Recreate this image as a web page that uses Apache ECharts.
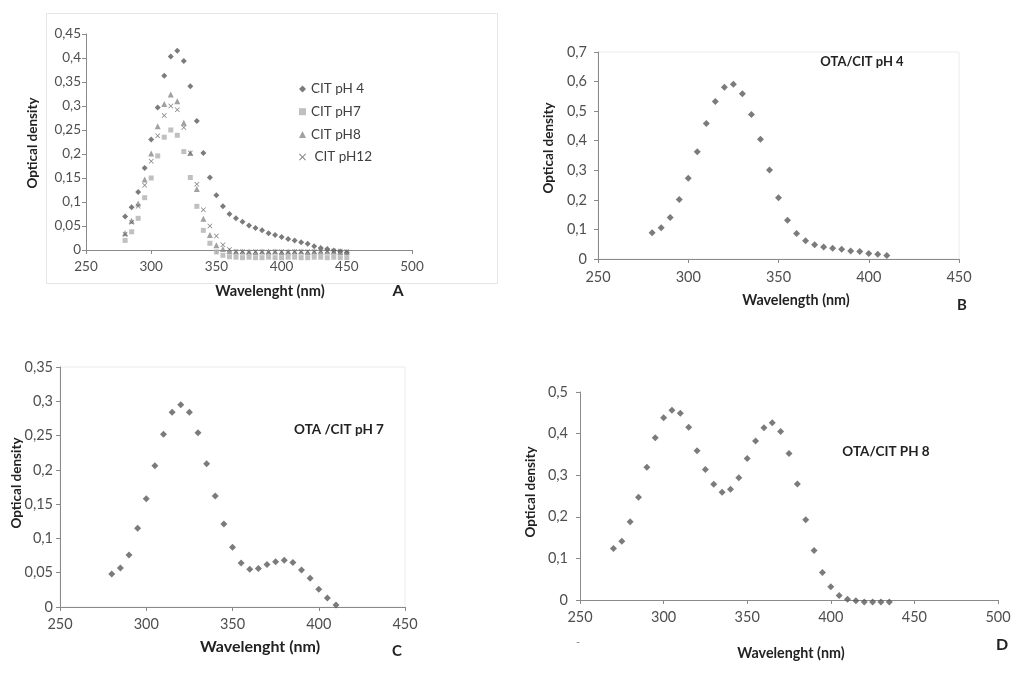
<!DOCTYPE html>
<html><head><meta charset="utf-8">
<script src="https://cdn.jsdelivr.net/npm/echarts@6/dist/echarts.min.js"></script>
<style>html,body{margin:0;padding:0;background:#fff}#c{width:1024px;height:673px}</style>
</head><body><div id="c"></div>
<script>
// Panel A: CIT at various pH
const wlA = [280,285,290,295,300,305,310,315,320,325,330,335,340,345,350,355,360,365,370,375,380,385,390,395,400,405,410,415,420,425,430,435,440,445,450];
const citPH4 = [0.070,0.089,0.121,0.171,0.230,0.297,0.363,0.403,0.415,0.394,0.341,0.269,0.202,0.151,0.114,0.091,0.075,0.066,0.059,0.051,0.046,0.041,0.035,0.031,0.027,0.023,0.020,0.016,0.013,0.008,0.004,0.002,-0.001,-0.003,-0.005];
const citPH7 = [0.020,0.038,0.066,0.109,0.150,0.196,0.235,0.250,0.239,0.205,0.151,0.091,0.041,0.014,-0.004,-0.011,-0.014,-0.015,-0.016,-0.015,-0.016,-0.016,-0.015,-0.016,-0.016,-0.015,-0.015,-0.016,-0.016,-0.015,-0.015,-0.016,-0.015,-0.016,-0.016];
const citPH8 = [0.035,0.061,0.097,0.147,0.201,0.258,0.304,0.324,0.310,0.265,0.202,0.127,0.065,0.031,0.010,0.002,-0.002,-0.003,-0.003,-0.003,-0.004,-0.003,-0.003,-0.003,-0.004,-0.003,-0.003,-0.003,-0.004,-0.003,-0.003,-0.003,-0.003,-0.004,-0.004];
const citPH12 = [0.033,0.058,0.091,0.135,0.185,0.238,0.280,0.300,0.292,0.255,0.202,0.137,0.084,0.050,0.029,0.011,0.001,-0.003,-0.003,-0.004,-0.003,-0.003,-0.004,-0.003,-0.003,-0.004,-0.003,-0.003,-0.003,-0.003,-0.002,-0.002,-0.002,-0.002,-0.003];
// Panel B: OTA/CIT pH 4
const wlB = [280,285,290,295,300,305,310,315,320,325,330,335,340,345,350,355,360,365,370,375,380,385,390,395,400,405,410];
const otaPH4 = [0.089,0.106,0.140,0.201,0.273,0.363,0.458,0.533,0.581,0.591,0.559,0.489,0.405,0.301,0.207,0.131,0.086,0.062,0.048,0.041,0.036,0.033,0.027,0.025,0.019,0.016,0.012];
// Panel C: OTA/CIT pH 7
const wlC = [280,285,290,295,300,305,310,315,320,325,330,335,340,345,350,355,360,365,370,375,380,385,390,395,400,405,410];
const otaPH7 = [0.048,0.057,0.076,0.115,0.158,0.206,0.252,0.284,0.295,0.284,0.254,0.209,0.162,0.121,0.087,0.064,0.055,0.056,0.062,0.066,0.068,0.065,0.054,0.042,0.026,0.013,0.003];
// Panel D: OTA/CIT PH 8
const wlD = [270,275,280,285,290,295,300,305,310,315,320,325,330,335,340,345,350,355,360,365,370,375,380,385,390,395,400,405,410,415,420,425,430,435];
const otaPH8 = [0.124,0.141,0.188,0.247,0.319,0.390,0.438,0.456,0.449,0.415,0.359,0.314,0.278,0.259,0.266,0.294,0.340,0.382,0.414,0.426,0.405,0.352,0.279,0.193,0.119,0.066,0.032,0.011,0.002,-0.002,-0.005,-0.005,-0.005,-0.005];

const FONT = 'Lato';
const axisCol = '#8a8a8a';
const labCol = '#4f4f4f';
const fmt = v => String(+(+v).toFixed(2)).replace('.', ',');
const pair = (xs, ys) => xs.map((x, i) => [x, ys[i]]);
const xMark = 'path://M0,1L1,0L5,4L9,0L10,1L6,5L10,9L9,10L5,6L1,10L0,9L4,5Z';

function xAx(gi, min, max, fs, margin) {
  return { gridIndex: gi, type: 'value', min, max, interval: 50,
    axisLine: { show: true, lineStyle: { color: axisCol, width: 1 } },
    axisTick: { show: true, length: 4, lineStyle: { color: axisCol } },
    splitLine: { show: false },
    axisLabel: { color: labCol, fontFamily: FONT, fontSize: fs, margin } };
}
function yAx(gi, max, interval, fs, margin) {
  return { gridIndex: gi, type: 'value', min: 0, max, interval,
    axisLine: { show: true, lineStyle: { color: axisCol, width: 1 } },
    axisTick: { show: true, length: 4, lineStyle: { color: axisCol } },
    splitLine: { show: false },
    axisLabel: { color: labCol, fontFamily: FONT, fontSize: fs, margin, formatter: fmt } };
}
function sc(name, gi, data, symbol, size, color) {
  return { name, type: 'scatter', xAxisIndex: gi, yAxisIndex: gi, data, symbol, symbolSize: size,
    clip: false, itemStyle: { color }, emphasis: { disabled: true }, silent: true, animation: false };
}
function txt(x, y, s, fs, bold, rot, color) {
  return { type: 'text', x, y, rotation: rot || 0,
    style: { text: s, fontFamily: FONT, fontSize: fs, fontWeight: bold ? 'bold' : 'normal',
      fill: color || '#222', align: 'center', verticalAlign: 'middle' } };
}

const chart = echarts.init(document.getElementById('c'), null, { renderer: 'canvas' });
chart.setOption({
  animation: false,
  backgroundColor: '#fff',
  grid: [
    { left: 86, top: 34, width: 326, height: 216 },
    { left: 598, top: 52, width: 361, height: 207, show: true, borderColor: '#ececec', borderWidth: 1 },
    { left: 60, top: 367, width: 345, height: 240, show: true, borderColor: '#ececec', borderWidth: 1 },
    { left: 580, top: 392, width: 418, height: 208 }
  ],
  xAxis: [ xAx(0, 250, 500, 13.5, 10), xAx(1, 250, 450, 14.5, 11), xAx(2, 250, 450, 14.5, 10), xAx(3, 250, 500, 14.5, 10) ],
  yAxis: [ yAx(0, 0.45, 0.05, 13.5, 5), yAx(1, 0.7, 0.1, 14.5, 11), yAx(2, 0.35, 0.05, 14.5, 7), yAx(3, 0.5, 0.1, 14.5, 12) ],
  legend: {
    data: ['CIT pH 4', 'CIT pH7', 'CIT pH8', ' CIT pH12'],
    orient: 'vertical', left: 294, top: 77, itemWidth: 7, itemHeight: 7, itemGap: 8.7,
    textStyle: { color: '#404040', fontFamily: FONT, fontSize: 13.5, lineHeight: 14 },
    selectedMode: false
  },
  series: [
    sc('CIT pH 4', 0, pair(wlA, citPH4), 'diamond', 6, '#5a5a5a'),
    sc('CIT pH7', 0, pair(wlA, citPH7), 'rect', 5, '#b0b0b0'),
    sc('CIT pH8', 0, pair(wlA, citPH8), 'triangle', 6, '#8a8a8a'),
    sc(' CIT pH12', 0, pair(wlA, citPH12), xMark, 5, '#5e5e5e'),
    sc('OTA/CIT pH 4', 1, pair(wlB, otaPH4), 'diamond', 7, '#5a5a5a'),
    sc('OTA /CIT pH 7', 2, pair(wlC, otaPH7), 'diamond', 7, '#5a5a5a'),
    sc('OTA/CIT PH 8', 3, pair(wlD, otaPH8), 'diamond', 7, '#5a5a5a')
  ],
  graphic: [
    { type: 'rect', shape: { x: 46.5, y: 13.5, width: 451, height: 270 }, style: { fill: 'none', stroke: '#e6e6e6', lineWidth: 1 }, silent: true },
    // Panel A
    txt(33, 143, 'Optical density', 13.5, true, Math.PI / 2),
    txt(270, 291, 'Wavelenght (nm)', 14.6, true),
    txt(398, 291, 'A', 16, true),
    // Panel B
    txt(549, 148, 'Optical density', 13.5, true, Math.PI / 2),
    txt(862, 62, 'OTA/CIT pH 4', 13, true),
    txt(796, 300, 'Wavelength (nm)', 14.3, true),
    txt(962, 305, 'B', 15, true),
    // Panel C
    txt(17, 483, 'Optical density', 13.5, true, Math.PI / 2),
    txt(339, 430, 'OTA /CIT pH 7', 13.5, true),
    txt(260, 647, 'Wavelenght (nm)', 16, true),
    txt(397, 651, 'C', 15, true),
    // Panel D
    txt(531, 492, 'Optical density', 13.5, true, Math.PI / 2),
    txt(886, 452, 'OTA/CIT PH 8', 13.5, true),
    txt(791, 653, 'Wavelenght (nm)', 14.3, true),
    txt(1002, 645, 'D', 16, true),
    txt(578, 642, '-', 11, false, 0, '#888')
  ]
});
</script></body></html>
